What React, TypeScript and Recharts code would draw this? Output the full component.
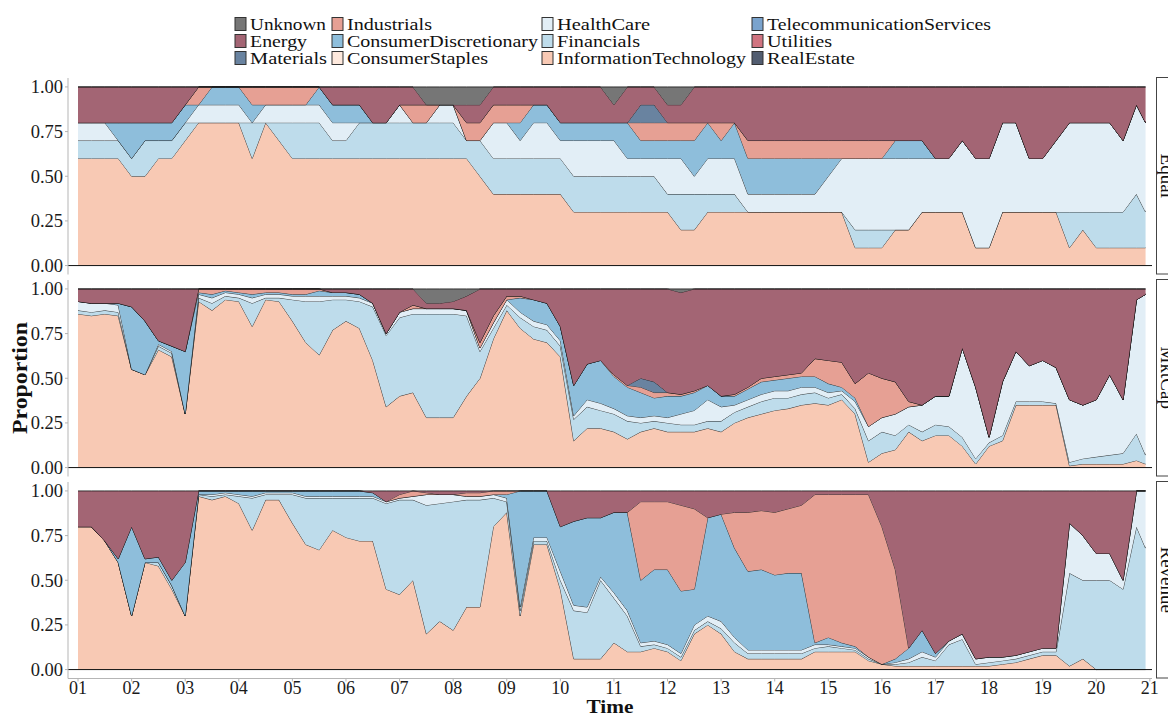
import React from 'react';
import { AreaChart, Area, XAxis, YAxis, ReferenceLine } from 'recharts';

const FONT = '"Liberation Serif", "DejaVu Serif", serif';

// quarterly time grid (decimal years)
const TIME = [2001,2001.25,2001.5,2001.75,2002,2002.25,2002.5,2002.75,2003,2003.25,2003.5,2003.75,2004,2004.25,2004.5,2004.75,2005,2005.25,2005.5,2005.75,2006,2006.25,2006.5,2006.75,2007,2007.25,2007.5,2007.75,2008,2008.25,2008.5,2008.75,2009,2009.25,2009.5,2009.75,2010,2010.25,2010.5,2010.75,2011,2011.25,2011.5,2011.75,2012,2012.25,2012.5,2012.75,2013,2013.25,2013.5,2013.75,2014,2014.25,2014.5,2014.75,2015,2015.25,2015.5,2015.75,2016,2016.25,2016.5,2016.75,2017,2017.25,2017.5,2017.75,2018,2018.25,2018.5,2018.75,2019,2019.25,2019.5,2019.75,2020,2020.25,2020.5,2020.75,2020.92];

const YEAR_TICKS = [2001,2002,2003,2004,2005,2006,2007,2008,2009,2010,2011,2012,2013,2014,2015,2016,2017,2018,2019,2020,2021];
const YEAR_LABELS = ['01','02','03','04','05','06','07','08','09','10','11','12','13','14','15','16','17','18','19','20','21'];
const Y_TICKS = [0, 0.25, 0.5, 0.75, 1];

const SECTORS = ['Unknown','Energy','Materials','Industrials','ConsumerDiscretionary','ConsumerStaples','HealthCare','Financials','InformationTechnology','TelecommunicationServices','Utilities','RealEstate'];
const COLORS: Record<string, string> = {
  Unknown: '#767676',
  Energy: '#A36574',
  Materials: '#6983A0',
  Industrials: '#E6A094',
  ConsumerDiscretionary: '#8EBEDB',
  ConsumerStaples: '#FEE9DD',
  HealthCare: '#E2EEF6',
  Financials: '#BEDCEB',
  InformationTechnology: '#F8C9B4',
  TelecommunicationServices: '#7AA3CD',
  Utilities: '#D17480',
  RealEstate: '#525D70',
};

// ---------- Equal weighting: number of the 10 stocks in each sector ----------
const N_STOCKS = 10;
const equalIT = [6,6,6,6,5,5,6,6,7,8, 8,8,8,6,8,7,6,6,6,6, 6,6,6,6,6,6,6,6,6,6, 5,4,4,4,4,4,4,3,3,3, 3,3,3,3,3,2,2,3,3,3, 3,3,3,3,3,3,3,3,1,1, 1,2,2,3,3,3,3,1,1,3, 3,3,3,3,1,2,1,1,1,1, 1];
const equalFin = [1,1,1,1,1,2,1,1,1,0, 0,0,0,2,0,1,2,2,2,1, 1,2,2,2,2,2,2,2,2,1, 2,2,2,2,2,2,2,2,2,2, 2,2,2,2,1,2,2,1,1,1, 0,0,0,0,0,0,0,0,1,1, 1,0,0,0,0,0,0,0,0,0, 0,0,0,0,2,1,2,2,2,3, 2];
const equalHC = [1,1,1,0,0,0,0,0,0,1, 1,1,1,0,1,1,1,1,1,1, 1,0,0,0,1,0,0,1,1,0, 0,2,2,1,2,2,1,2,2,2, 2,1,1,1,2,2,1,2,2,2, 1,1,1,1,1,1,2,3,4,4, 4,4,4,3,3,3,4,5,5,5, 5,3,3,4,5,5,5,5,4,5, 5];
const equalCD = [0,0,0,1,2,1,1,1,1,0, 1,1,1,1,0,0,0,0,1,1, 1,1,0,0,0,0,0,0,0,0, 0,0,0,1,1,1,1,1,1,1, 1,2,1,1,1,1,2,2,1,2, 2,2,2,2,2,2,1,0,0,0, 0,1,1,1,0,0,0,0,0,0, 0,0,0,0,0,0,0,0,0,0, 0];
const equalInd = [0,0,0,0,0,0,0,0,0,1, 0,0,0,1,1,1,1,1,0,0, 0,0,0,0,0,1,1,0,0,1, 1,1,1,1,0,0,0,0,0,0, 0,0,1,1,1,1,1,0,1,0, 1,1,1,1,1,1,1,1,1,1, 1,0,0,0,0,0,0,0,0,0, 0,0,0,0,0,0,0,0,0,0, 0];
const equalMat = [0,0,0,0,0,0,0,0,0,0, 0,0,0,0,0,0,0,0,0,0, 0,0,0,0,0,0,0,0,0,0, 0,0,0,0,0,0,0,0,0,0, 0,0,1,1,0,0,0,0,0,0, 0,0,0,0,0,0,0,0,0,0, 0,0,0,0,0,0,0,0,0,0, 0,0,0,0,0,0,0,0,0,0, 0];
const equalEnergy = [2,2,2,2,2,2,2,2,1,0, 0,0,0,0,0,0,0,0,0,1, 1,1,2,2,1,1,0,0,0,1, 1,1,1,1,1,1,2,2,2,2, 1,2,1,1,1,1,2,2,2,2, 3,3,3,3,3,3,3,3,3,3, 3,3,3,3,4,4,3,4,4,2, 2,4,4,3,2,2,2,2,3,1, 2];
const equalUnknown = [0,0,0,0,0,0,0,0,0,0, 0,0,0,0,0,0,0,0,0,0, 0,0,0,0,0,0,1,1,1,1, 1,0,0,0,0,0,0,0,0,0, 1,0,0,0,1,1,0,0,0,0, 0,0,0,0,0,0,0,0,0,0, 0,0,0,0,0,0,0,0,0,0, 0,0,0,0,0,0,0,0,0,0, 0];

// ---------- Market-cap weighting (proportions) ----------
const mktIT = [.86,.85,.86,.85,.55,.52,.66,.62,.30,.93, .88,.94,.93,.79,.94,.93,.82,.70,.63,.77, .82,.78,.60,.34,.40,.42,.28,.28,.28,.40, .50,.72,.88,.78,.72,.70,.62,.15,.22,.22, .20,.16,.20,.22,.20,.20,.20,.22,.20,.25, .28,.30,.32,.33,.35,.36,.35,.38,.30,.03, .08,.10,.20,.15,.18,.18,.12,.02,.12,.15, .35,.35,.35,.35,.01,.02,.02,.02,.02,.04, .02];
const mktFin = [.02,.02,.02,.02,0,0,.02,.02,0,.02, .04,.02,.02,.13,.01,.02,.12,.23,.30,.17, .12,.15,.30,.40,.44,.44,.58,.58,.58,.45, .15,.06,.03,.06,.07,.07,.06,.12,.12,.10, .10,.10,.05,.04,.05,.04,.04,.04,.06,.06, .06,.07,.07,.06,.06,.06,.04,.03,.03,.12, .12,.08,.04,.05,.06,.05,.05,.03,.02,.03, .02,.02,.02,.01,.02,.03,.04,.05,.06,.15, .05];
const mktHC = [.05,.05,.04,.04,0,0,.01,.01,0,.02, .03,.02,.02,.03,.02,.02,.02,.03,.03,.02, .02,.02,.02,.01,.03,.03,.03,.03,.03,.03, .02,.03,.03,.03,.03,.03,.03,.02,.04,.04, .03,.03,.03,.03,.03,.06,.08,.12,.08,.04, .04,.04,.04,.04,.04,.03,.03,.02,.04,.08, .08,.12,.10,.15,.16,.17,.50,.40,.03,.30, .28,.20,.23,.20,.35,.30,.32,.45,.30,.75, .90];
const mktCD = [0,0,0,.01,.35,.30,.02,.03,.35,.01, .02,.01,.01,.02,.01,.01,.01,.01,.03,.02, .02,.02,0,0,0,0,0,0,0,0, 0,0,0,.08,.12,.12,.08,.17,.20,.24, .18,.16,.14,.10,.12,.10,.10,.08,.06,.05, .06,.07,.06,.07,.06,.06,.05,.02,.02,0, 0,0,0,0,0,0,0,0,0,0, 0,0,0,0,0,0,0,0,0,0, 0];
const mktInd = [0,0,0,0,0,0,0,0,0,.02, .03,.01,.02,.03,.02,.02,.03,.03,.01,0, 0,0,0,0,0,.02,0,0,0,0, .03,.04,.02,.01,0,0,0,0,0,0, .01,.01,.03,.03,.02,.01,.01,0,0,.01, .01,.02,.02,.02,.02,.10,.13,.14,.08,.30, .22,.18,.03,0,0,0,0,0,0,0, 0,0,0,0,0,0,0,0,0,0, 0];
const mktMat = [0,0,0,0,0,0,0,0,0,0, 0,0,0,0,0,0,0,0,0,0, 0,0,0,0,0,0,0,0,0,0, 0,0,0,0,0,0,0,0,0,0, 0,0,.05,.06,0,0,0,0,0,0, 0,0,0,0,0,0,0,0,0,0, 0,0,0,0,0,0,0,0,0,0, 0,0,0,0,0,0,0,0,0,0, 0];
const mktEnergy = [.07,.08,.08,.08,.10,.18,.29,.32,.35,0, 0,0,0,0,0,0,0,0,0,.02, .02,.03,.08,.25,.13,.09,.03,.03,.04,.08, .30,.15,.04,.04,.06,.08,.21,.54,.42,.40, .48,.54,.50,.52,.58,.57,.57,.54,.60,.59, .55,.50,.49,.48,.47,.39,.40,.41,.53,.47, .50,.52,.63,.65,.60,.60,.33,.55,.83,.52, .35,.43,.40,.44,.62,.65,.62,.48,.62,.06, .03];
const mktUnknown = [0,0,0,0,0,0,0,0,0,0, 0,0,0,0,0,0,0,0,0,0, 0,0,0,0,0,0,.08,.08,.07,.04, 0,0,0,0,0,0,0,0,0,0, 0,0,0,0,0,.02,0,0,0,0, 0,0,0,0,0,0,0,0,0,0, 0,0,0,0,0,0,0,0,0,0, 0,0,0,0,0,0,0,0,0,0, 0];

// ---------- Revenue weighting (proportions) ----------
const revIT = [.80,.80,.72,.60,.30,.60,.58,.45,.30,.97, .95,.97,.93,.78,.95,.95,.82,.70,.67,.78, .74,.72,.72,.45,.42,.50,.20,.27,.22,.35, .35,.80,.88,.30,.70,.70,.45,.06,.06,.06, .15,.10,.10,.12,.10,.05,.20,.25,.20,.10, .06,.06,.06,.06,.06,.10,.10,.10,.10,.05, .03,.02,.02,.02,.02,.02,.02,.02,.02,.03, .04,.06,.08,.08,.02,.06,0,0,0,0, 0];
const revFin = [0,0,0,0,0,0,.02,.02,0,.01, .02,.01,.04,.18,.03,.03,.16,.26,.29,.18, .22,.24,.24,.48,.53,.45,.72,.66,.72,.60, .60,.16,.06,.03,.02,.02,.05,.27,.26,.44, .25,.20,.03,.02,.02,.02,.02,.02,.03,.05, .03,.03,.03,.03,.03,.02,.03,.02,.01,.01, 0,.01,.02,.05,.03,.12,.15,.01,.02,.02, .02,.02,.02,.02,.52,.44,.50,.50,.45,.80, .68];
const revHC = [0,0,0,0,0,0,0,0,0,0, .01,.01,.01,.01,.01,.01,.01,.01,.01,.01, .01,.01,.01,.01,.01,.02,.06,.05,.04,.02, .02,.02,.02,.02,.02,.02,.05,.03,.03,.02, .03,.03,.02,.02,.02,.02,.03,.03,.04,.03, .02,.02,.02,.02,.02,.02,.01,.01,.01,.01, 0,.01,.02,.03,.02,.02,.03,.03,.03,.02, .02,.02,.02,.02,.28,.25,.15,.15,.05,.20, .32];
const revCD = [0,0,0,.02,.50,.02,.03,.03,.30,.02, .02,.01,.02,.03,.01,.01,.01,.03,.03,.03, .03,.03,.02,0,0,0,0,0,0,0, 0,0,.02,.65,.26,.26,.25,.47,.50,.33, .45,.55,.35,.40,.42,.35,.20,.55,.60,.50, .44,.45,.42,.43,.43,.01,.04,.02,.01,0, 0,.02,.06,.12,.02,0,0,0,0,0, 0,0,0,0,0,0,0,0,0,0, 0];
const revInd = [0,0,0,0,0,0,0,0,0,0, 0,0,0,0,0,0,0,0,0,0, 0,0,0,0,.02,.03,.01,0,0,.02, .02,.02,.02,0,0,0,0,0,0,0, 0,0,.44,.38,.38,.48,.45,0,0,.20, .33,.33,.35,.36,.38,.83,.80,.83,.85,.91, .77,.50,0,0,0,0,0,0,0,0, 0,0,0,0,0,0,0,0,0,0, 0];
const revEnergy = [.20,.20,.28,.38,.20,.38,.37,.50,.40,0, 0,0,0,0,0,0,0,0,0,0, 0,0,.01,.06,.02,0,.01,.02,.02,.01, .01,0,0,0,0,0,.20,.17,.15,.15, .12,.12,.06,.06,.06,.08,.10,.15,.13,.12, .12,.11,.12,.10,.08,.02,.02,.02,.02,.02, .20,.44,.88,.78,.91,.84,.80,.94,.93,.93, .92,.90,.88,.88,.18,.25,.35,.35,.50,0, 0];

type Series = Record<string, number[]>;

function buildTable(series: Series, divisor: number) {
  return TIME.map((t, i) => {
    const row: Record<string, number> = { t };
    Object.keys(series).forEach((k) => {
      row[k] = series[k][i] / divisor;
    });
    return row;
  });
}

const equalTable = buildTable({
  InformationTechnology: equalIT, Financials: equalFin, HealthCare: equalHC,
  ConsumerDiscretionary: equalCD, Industrials: equalInd, Materials: equalMat,
  Energy: equalEnergy, Unknown: equalUnknown,
}, N_STOCKS);
const mktTable = buildTable({
  InformationTechnology: mktIT, Financials: mktFin, HealthCare: mktHC,
  ConsumerDiscretionary: mktCD, Industrials: mktInd, Materials: mktMat,
  Energy: mktEnergy, Unknown: mktUnknown,
}, 1);
const revTable = buildTable({
  InformationTechnology: revIT, Financials: revFin, HealthCare: revHC,
  ConsumerDiscretionary: revCD, Industrials: revInd, Energy: revEnergy,
}, 1);

// bottom-to-top stacking order
const STACK = [...SECTORS].reverse();

const PLOT_LEFT = 68;
const PLOT_RIGHT = 1152;
const PANEL_H = 196.5;
const PAD = 8;
const X_DOMAIN: [number, number] = [2000.813, 2021.04];

function Panel({ data, top, showX }: { data: Record<string, number>[]; top: number; showX: boolean }) {
  const axisH = showX ? 30 : 0;
  const bottomPad = showX ? 0 : PAD;
  const h = PAD + PANEL_H + axisH + bottomPad;
  const keys = STACK.filter((k) => data[0][k] !== undefined);
  return (
    <div style={{ position: 'absolute', left: 0, top: top - PAD, width: 1168, height: h }}>
      <AreaChart
        width={1168}
        height={h}
        data={data}
        margin={{ top: PAD, right: 1168 - PLOT_RIGHT, bottom: bottomPad, left: 0 }}
      >
        <XAxis
          dataKey="t"
          type="number"
          domain={X_DOMAIN}
          allowDataOverflow
          ticks={YEAR_TICKS}
          tickFormatter={(v: number) => YEAR_LABELS[YEAR_TICKS.indexOf(v)]}
          hide={!showX}
          height={axisH}
          stroke="#b5b5b5"
          tickSize={3}
          tickMargin={0}
          tick={{ fill: '#1a1a1a', fontSize: 18, fontFamily: FONT }}
          interval={0}
        />
        <YAxis
          type="number"
          domain={[-0.05, 1.05]}
          allowDataOverflow
          ticks={Y_TICKS}
          tickFormatter={(v: number) => v.toFixed(2)}
          width={PLOT_LEFT}
          stroke="#b5b5b5"
          tickSize={3}
          tickMargin={2}
          tick={{ fill: '#1a1a1a', fontSize: 18.5, fontFamily: FONT }}
          interval={0}
        />
        {keys.map((k) => (
          <Area
            key={k}
            type="linear"
            dataKey={k}
            stackId="s"
            fill={COLORS[k]}
            fillOpacity={1}
            stroke="#111"
            strokeWidth={0.8}
            dot={false}
            activeDot={false}
            isAnimationActive={false}
          />
        ))}
        <ReferenceLine y={0} stroke="#111" strokeWidth={1} segment={[{ x: 2001, y: 0 }, { x: 2020.92, y: 0 }]} />
      </AreaChart>
    </div>
  );
}

const LEGEND_COLS = [
  ['Unknown', 'Energy', 'Materials'],
  ['Industrials', 'ConsumerDiscretionary', 'ConsumerStaples'],
  ['HealthCare', 'Financials', 'InformationTechnology'],
  ['TelecommunicationServices', 'Utilities', 'RealEstate'],
];
const LEGEND_WIDTHS: Record<string, number> = {
  Unknown: 76, Energy: 57, Materials: 77,
  Industrials: 85, ConsumerDiscretionary: 191, ConsumerStaples: 141,
  HealthCare: 93, Financials: 83, InformationTechnology: 189,
  TelecommunicationServices: 224, Utilities: 65, RealEstate: 88,
};
const LEGEND_X = [235, 332, 542, 752];
const LEGEND_Y = [24, 41, 58];

const PANELS = [
  { name: 'Equal', data: equalTable, top: 77.5 },
  { name: 'MktCap', data: mktTable, top: 279.5 },
  { name: 'Revenue', data: revTable, top: 481.5 },
];

export default function App() {
  return (
    <div style={{ position: 'absolute', left: 0, top: 0, width: 1168, height: 713, background: '#fff', overflow: 'hidden', fontFamily: FONT }}>
      <svg width={1168} height={76} style={{ position: 'absolute', left: 0, top: 0 }}>
        {LEGEND_COLS.map((col, ci) =>
          col.map((name, ri) => (
            <g key={name}>
              <rect x={LEGEND_X[ci]} y={LEGEND_Y[ri] - 6.5} width={11} height={13} fill={COLORS[name]} stroke="#333" strokeWidth={1} />
              <text
                x={LEGEND_X[ci] + 15}
                y={LEGEND_Y[ri] + 5.5}
                fontSize={17}
                fontFamily={FONT}
                fill="#111"
                textLength={LEGEND_WIDTHS[name]}
                lengthAdjust="spacingAndGlyphs"
              >
                {name}
              </text>
            </g>
          ))
        )}
      </svg>

      {PANELS.map((p, i) => (
        <Panel key={p.name} data={p.data} top={p.top} showX={i === 2} />
      ))}

      <svg width={1168} height={713} style={{ position: 'absolute', left: 0, top: 0, pointerEvents: 'none' }}>
        {PANELS.map((p) => (
          <g key={p.name}>
            <rect x={1156.5} y={p.top} width={30} height={PANEL_H} fill="#fff" stroke="#444" strokeWidth={1} />
            <text
              transform={`translate(1161, ${p.top + PANEL_H / 2}) rotate(90)`}
              textAnchor="middle"
              fontSize={19}
              fontFamily={FONT}
              fill="#111"
            >
              {p.name}
            </text>
          </g>
        ))}
        <text
          transform="translate(27, 378) rotate(-90)"
          textAnchor="middle"
          fontSize={21}
          fontWeight="bold"
          fontFamily={FONT}
          fill="#111"
          textLength={112}
          lengthAdjust="spacingAndGlyphs"
        >
          Proportion
        </text>
        <text x={610} y={712.5} textAnchor="middle" fontSize={19} fontWeight="bold" fontFamily={FONT} fill="#111" textLength={47} lengthAdjust="spacingAndGlyphs">
          Time
        </text>
      </svg>
    </div>
  );
}
